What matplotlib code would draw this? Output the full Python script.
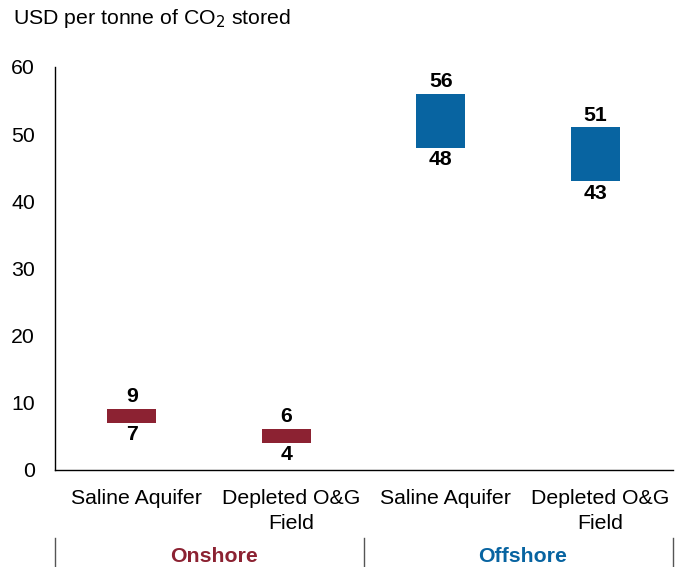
import matplotlib
matplotlib.use("Agg")
import matplotlib.pyplot as plt
import matplotlib.transforms as mtransforms
from matplotlib.lines import Line2D

plt.rcParams['font.family'] = ['Liberation Sans', 'DejaVu Sans']

categories = ["Saline Aquifer", "Depleted O&G\nField", "Saline Aquifer", "Depleted O&G\nField"]
low = [7, 4, 48, 43]
high = [9, 6, 56, 51]
groups = ["Onshore", "Offshore"]
group_of = [0, 0, 1, 1]
group_colors = ["#8C2232", "#0864A1"]

FS = 15.3

fig = plt.figure(figsize=(6.87, 5.67), dpi=100)
ax = fig.add_axes([54.5/687, 1-469.5/567, (672.5-54.5)/687, (469.5-67)/567])

x = list(range(len(categories)))
colors = [group_colors[g] for g in group_of]
ax.bar(x, [h - l for h, l in zip(high, low)], bottom=low, width=0.32, color=colors)

for xi, l, h in zip(x, low, high):
    ax.annotate(f"{h}", (xi, h), xytext=(0, 2), textcoords="offset points",
                ha="center", va="bottom", fontsize=FS, fontweight="bold")
    ax.annotate(f"{l}", (xi, l), xytext=(0, -2), textcoords="offset points",
                ha="center", va="top", fontsize=FS, fontweight="bold")

ax.set_xlim(-0.5, 3.5)
ax.set_ylim(0, 60)
ax.set_yticks([0, 10, 20, 30, 40, 50, 60])
ax.set_xticks(x)
ax.set_xticklabels(categories, fontsize=FS, linespacing=1.4)
ax.tick_params(axis="both", length=0, labelsize=FS)
ax.tick_params(axis="x", pad=14)
ax.tick_params(axis="y", pad=14)
shift = mtransforms.ScaledTranslation(5/100, 0, fig.dpi_scale_trans)
for lab in ax.get_xticklabels():
    lab.set_transform(lab.get_transform() + shift)
for s in ["top", "right"]:
    ax.spines[s].set_visible(False)
ax.spines["left"].set_linewidth(1.0)
ax.spines["bottom"].set_linewidth(1.0)

fig.text(13/687, 1-18/567, "USD per tonne of CO$_2$ stored", fontsize=FS, ha="left", va="center")

# group separators
for px in [54.5, 363.5, 672.5]:
    fig.add_artist(Line2D([px/687, px/687], [1-538/567, 1-567/567], color="#555555", lw=1.0))
for gi, (g, c) in enumerate(zip(groups, group_colors)):
    cx = (0.5 + 2*gi)
    xf = (ax.transData.transform((cx, 0))[0] + 5) / fig.bbox.width
    fig.text(xf, 1-557/567, g, color=c, fontsize=FS, fontweight="bold", ha="center", va="center")

fig.savefig("out.png", dpi=100)
